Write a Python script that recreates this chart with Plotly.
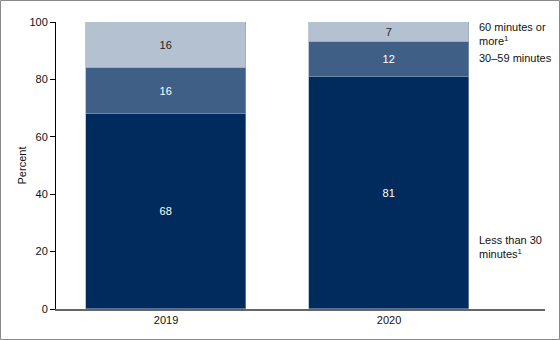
import plotly.graph_objects as go

years = ["2019", "2020"]
less30 = [68, 81]
m30_59 = [16, 12]
m60 = [16, 7]
series_names = ["Less than 30 minutes", "30–59 minutes", "60 minutes or more"]
legend_labels = ["Less than 30<br>minutes<sup>1</sup>", "30–59 minutes", "60 minutes or<br>more<sup>1</sup>"]
colors = ["#002b5c", "#3f5f86", "#b3c1d1"]
text_colors = ["white", "white", "#222222"]

W, H = 560, 340
ml, mr, mt, mb = 56, 15, 22, 31

fig = go.Figure()
xpos = [0, 1]
for vals, name, col, tc in zip([less30, m30_59, m60], series_names, colors, text_colors):
    fig.add_trace(go.Bar(
        x=xpos, y=vals, name=name, width=0.717,
        marker=dict(color=col, line=dict(color="#8fa3bb", width=0.6)),
        text=[str(v) for v in vals], textposition="inside", insidetextanchor="middle",
        textfont=dict(color=tc, size=11, family="Liberation Sans, Arial"),
        hoverinfo="skip",
    ))

pw = W - ml - mr
ph = H - mt - mb
xa = (477 - ml) / pw
fig.add_annotation(x=xa, y=21.6, xref="paper", yref="y", text=legend_labels[0],
                   showarrow=False, xanchor="left", yanchor="middle", align="left")
fig.add_annotation(x=xa, y=87.5, xref="paper", yref="y", text=legend_labels[1],
                   showarrow=False, xanchor="left", yanchor="middle", align="left")
fig.add_annotation(x=xa, y=1 + 3 / ph, xref="paper", yref="paper", text=legend_labels[2],
                   showarrow=False, xanchor="left", yanchor="top", align="left")

# outer border
fig.add_shape(type="rect", xref="paper", yref="paper",
              x0=(0.5 - ml) / pw, x1=(W - 0.5 - ml) / pw,
              y0=-(H - 0.5 - mt - ph) / ph, y1=(ph + mt - 0.5) / ph,
              line=dict(color="#8a8a8a", width=1), fillcolor="rgba(0,0,0,0)", layer="above")

fig.update_layout(
    barmode="stack", width=W, height=H, showlegend=False,
    margin=dict(l=ml, r=mr, t=mt, b=mb, pad=0),
    paper_bgcolor="white", plot_bgcolor="white",
    font=dict(family="Liberation Sans, Arial", size=11, color="#111111"),
    bargap=0,
    xaxis=dict(range=[-0.4935, 1.6995], tickmode="array", tickvals=xpos, ticktext=years,
               showline=True, linecolor="#666666", linewidth=1.5, ticks="", showgrid=False,
               zeroline=False, fixedrange=True),
    yaxis=dict(range=[0, 100], tickvals=[0, 20, 40, 60, 80, 100], showline=True,
               linecolor="black", linewidth=1, ticks="outside", ticklen=5, tickcolor="black",
               showgrid=False, zeroline=False,
               title=dict(text="Percent", standoff=0, font=dict(size=11))),
    uniformtext=dict(mode="show", minsize=11),
)

fig.write_html("out.html")
